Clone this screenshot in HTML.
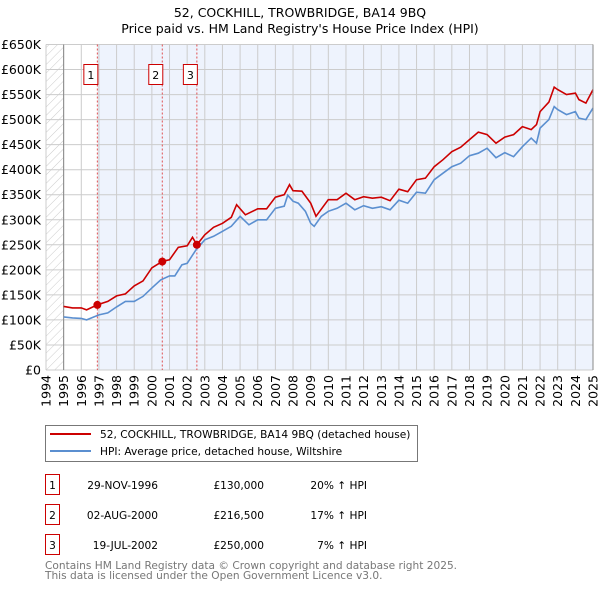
<!DOCTYPE html>
<html><head><meta charset="utf-8"><style>
body{margin:0;background:#fff;font-family:"DejaVu Sans","Liberation Sans",sans-serif;}
svg text{font-family:"DejaVu Sans","Liberation Sans",sans-serif;}
</style></head><body>
<svg id="chart" width="600" height="590" xmlns="http://www.w3.org/2000/svg">
<defs><pattern id="hatch" width="6" height="6" patternUnits="userSpaceOnUse" patternTransform="rotate(45)"><line x1="0" y1="0" x2="0" y2="6" stroke="#ccc" stroke-width="1"/></pattern></defs>
<text x="300" y="17" text-anchor="middle" font-size="12.5">52, COCKHILL, TROWBRIDGE, BA14 9BQ</text>
<text x="300" y="33" text-anchor="middle" font-size="12.5">Price paid vs. HM Land Registry's House Price Index (HPI)</text>
<g id="plot"></g>
<g>
<rect x="45.5" y="425.5" width="372" height="36" fill="#fff" stroke="#777"/>
<line x1="50" y1="434" x2="91" y2="434" stroke="#cc0000" stroke-width="2"/>
<text x="100" y="438" font-size="10.6">52, COCKHILL, TROWBRIDGE, BA14 9BQ (detached house)</text>
<line x1="50" y1="451" x2="91" y2="451" stroke="#5b8fd0" stroke-width="2"/>
<text x="100" y="455" font-size="10.6">HPI: Average price, detached house, Wiltshire</text>
</g>
<g id="table" font-size="10.6"></g>
<text x="45" y="569" font-size="10.6" fill="#777">Contains HM Land Registry data © Crown copyright and database right 2025.</text>
<text x="45" y="579" font-size="10.6" fill="#777">This data is licensed under the Open Government Licence v3.0.</text>
</svg>
<script>
const hpiYears=[1995,1995.5,1996,1996.3,1997,1997.5,1998,1998.5,1999,1999.5,2000,2000.5,2001,2001.3,2001.7,2002,2002.5,2003,2003.5,2004,2004.5,2005,2005.5,2006,2006.5,2007,2007.5,2007.7,2008,2008.3,2008.7,2009,2009.2,2009.6,2010,2010.5,2011,2011.5,2012,2012.5,2013,2013.5,2014,2014.5,2015,2015.5,2016,2016.5,2017,2017.5,2018,2018.5,2019,2019.5,2020,2020.5,2021,2021.5,2021.8,2022,2022.5,2022.8,2023,2023.5,2024,2024.2,2024.6,2025];
const hpiValues=[106,104,103,100,110,114,126,137,137,147,164,180,188,188,210,213,240,260,267,277,287,307,290,300,300,323,327,349,337,333,317,293,287,307,317,323,333,320,328,323,326,320,339,333,355,353,380,393,406,413,428,433,443,424,434,426,446,463,453,483,500,526,520,510,516,503,500,523];
const priceYears=[1995,1995.5,1996,1996.3,1996.9,1997.5,1998,1998.5,1999,1999.5,2000,2000.6,2001,2001.5,2002,2002.3,2002.55,2003,2003.5,2004,2004.5,2004.8,2005.3,2006,2006.5,2007,2007.5,2007.8,2008,2008.5,2009,2009.3,2010,2010.5,2011,2011.5,2012,2012.5,2013,2013.5,2014,2014.5,2015,2015.5,2016,2016.5,2017,2017.5,2018,2018.5,2019,2019.5,2020,2020.5,2021,2021.5,2021.8,2022,2022.5,2022.8,2023,2023.5,2024,2024.2,2024.6,2025];
const priceValues=[127,124,124,120,130,137,148,152,168,178,204,217,220,245,248,265,250,270,285,293,305,330,310,322,322,345,350,370,358,357,333,307,340,340,353,340,346,343,345,338,361,356,380,383,406,420,436,445,460,475,470,453,465,470,486,480,490,516,535,565,560,550,553,540,533,560];
const saleYears=[1996.91,2000.59,2002.55];
const saleValues=[130,216.5,250];
const saleLabels=["1","2","3"];
const saleDates=["29-NOV-1996","02-AUG-2000","19-JUL-2002"];
const salePrices=["£130,000","£216,500","£250,000"];
const saleDiffs=["20% ↑ HPI","17% ↑ HPI","7% ↑ HPI"];
const yTicks=[0,50,100,150,200,250,300,350,400,450,500,550,600,650];
const xTicks=[1994,1995,1996,1997,1998,1999,2000,2001,2002,2003,2004,2005,2006,2007,2008,2009,2010,2011,2012,2013,2014,2015,2016,2017,2018,2019,2020,2021,2022,2023,2024,2025];

const NS="http://www.w3.org/2000/svg";
const X0=46,X1=593,Y0=370,Y1=44.5,minY=1994,maxY=2025,maxV=650;
const xs=v=>X0+(v-minY)/(maxY-minY)*(X1-X0);
const ys=v=>Y0-v/maxV*(Y0-Y1);
const plot=document.getElementById('plot');
function mk(tag,attrs,parent){const e=document.createElementNS(NS,tag);for(const k in attrs)e.setAttribute(k,attrs[k]);(parent||plot).appendChild(e);return e;}
let e;
e=mk('rect',{x:X0,y:Y1,width:X1-X0,height:Y0-Y1,fill:'#fff'});


e=mk('rect',{x:X0,y:Y1,width:xs(1995)-X0,height:Y0-Y1,fill:'url(#hatch)'});


e=mk('rect',{x:xs(saleYears[0]),y:Y1,width:X1-xs(saleYears[0]),height:Y0-Y1,fill:'#eef3fd'});


yTicks.forEach(t=>{
 e=mk('line',{x1:X0,x2:X1,y1:ys(t),y2:ys(t),stroke:'#ccc','stroke-width':1});
 
 
 e=mk('text',{x:X0-5,y:ys(t)+4.5,'text-anchor':'end','font-size':12.5});
 e.textContent=t===0?'£0':'£'+t+'K';
 
 
});
xTicks.forEach(t=>{
 e=mk('line',{x1:xs(t),x2:xs(t),y1:Y1,y2:Y0,stroke:'#ccc','stroke-width':1});
 
 
 e=mk('text',{x:0,y:0,'text-anchor':'end','font-size':12.5,transform:`translate(${xs(t)+4.5},${Y0+5}) rotate(-90)`});
 e.textContent=t;
 
 
});
e=mk('line',{x1:xs(1995),x2:xs(1995),y1:Y1,y2:Y0,stroke:'#888'});


saleYears.forEach((y,i)=>{
 e=mk('line',{x1:xs(y),x2:xs(y),y1:Y1,y2:Y0,stroke:'#e05050','stroke-dasharray':'2,2'});
 
 
 e=mk('rect',{x:xs(y)-13.5,y:64.5,width:14,height:20,fill:'#fff',stroke:'#cc0000'});
 
 
 e=mk('text',{x:xs(y)-6.5,y:79,'text-anchor':'middle','font-size':11});
 e.textContent=saleLabels[i];
 
 
});
const pts=(xa,va)=>xa.map((x,i)=>xs(x).toFixed(1)+','+ys(va[i]).toFixed(1)).join(' ');
e=mk('polyline',{points:pts(hpiYears,hpiValues),fill:'none',stroke:'#5b8fd0','stroke-width':1.6});


e=mk('polyline',{points:pts(priceYears,priceValues),fill:'none',stroke:'#cc0000','stroke-width':1.6});


saleYears.forEach((y,i)=>{
 e=mk('circle',{cx:xs(y),cy:ys(saleValues[i]),r:4,fill:'#cc0000'});
 
 
});
e=mk('line',{x1:X1,x2:X1,y1:Y1,y2:Y0,stroke:'#888'});


const tbl=document.getElementById('table');
saleYears.forEach((y,i)=>{
 const cy=485+30*i;
 e=mk('rect',{x:45.5,y:cy-10.5,width:14,height:20,fill:'#fff',stroke:'#cc0000'},tbl);
 
 
 e=mk('text',{x:52.5,y:cy+4,'text-anchor':'middle'},tbl);e.textContent=saleLabels[i];
 
 
 e=mk('text',{x:158,y:cy+4,'text-anchor':'end'},tbl);e.textContent=saleDates[i];
 
 
 e=mk('text',{x:264,y:cy+4,'text-anchor':'end'},tbl);e.textContent=salePrices[i];
 
 
 e=mk('text',{x:367,y:cy+4,'text-anchor':'end'},tbl);e.textContent=saleDiffs[i];
 
 
});
</script>
</body></html>
